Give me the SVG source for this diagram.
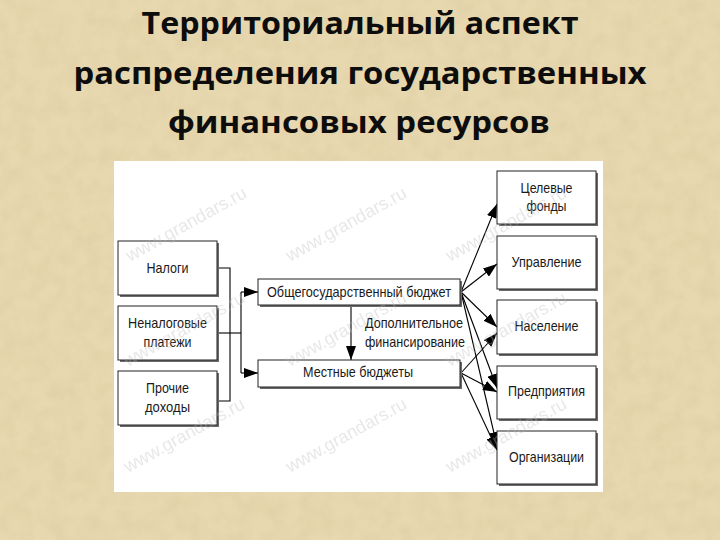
<svg xmlns="http://www.w3.org/2000/svg" width="720" height="540" viewBox="0 0 720 540">
<style>
.title{font-family:"Open Sans","Noto Sans","Liberation Sans",sans-serif;font-weight:700;font-size:31px;fill:#0d0d0d;text-anchor:middle}
.t{font-family:"Liberation Sans",Arial,sans-serif;font-size:14.5px;fill:#1a1a1a;text-anchor:middle}
.tl{font-family:"Liberation Sans",Arial,sans-serif;font-size:14.5px;fill:#1a1a1a;text-anchor:start}
.box{fill:#fff;stroke:#222;stroke-width:1}
.sh{fill:#6a6a6a}
.ln{fill:none;stroke:#000;stroke-width:1.1}
.wm{font-family:"Liberation Sans",Arial,sans-serif;font-size:18px;fill:#bdbdbd;opacity:.35}
</style>
<defs>
<marker id="ah" markerWidth="14" markerHeight="10" refX="14" refY="5" orient="auto" markerUnits="userSpaceOnUse">
<path d="M0,0 L14,5 L0,10 Z" fill="#000"/>
</marker>
<filter id="paper" x="0" y="0" width="100%" height="100%">
<feTurbulence type="fractalNoise" baseFrequency="0.06" numOctaves="3" seed="7" result="n"/>
<feColorMatrix in="n" type="matrix" values="0 0 0 0 0.55  0 0 0 0 0.45  0 0 0 0 0.25  0 0 0 0.9 -0.3"/>
</filter>
</defs>
<rect x="0" y="0" width="720" height="540" fill="#E8D8AF"/>
<rect x="0" y="0" width="720" height="540" filter="url(#paper)" opacity="0.35"/>
<g id="title">
<text class="title" x="360" y="34" textLength="437" lengthAdjust="spacingAndGlyphs">Территориальный аспект</text>
<text class="title" x="360" y="84" textLength="573" lengthAdjust="spacingAndGlyphs">распределения государственных</text>
<text class="title" x="359" y="133" textLength="382" lengthAdjust="spacingAndGlyphs">финансовых ресурсов</text>
</g>
<rect id="panel" x="114" y="161" width="489" height="331" fill="#fff"/>
<g id="connectors">
<path class="ln" d="M217,268 H230 V401 H217"/>
<path class="ln" d="M217,333 H241"/>
<path class="ln" d="M241,292 V373"/>
<path class="ln" d="M241,292 H258" marker-end="url(#ah)"/>
<path class="ln" d="M241,373 H258" marker-end="url(#ah)"/>
<path class="ln" d="M351,306 V360" marker-end="url(#ah)"/>
<path class="ln" d="M461,292 L497,204" marker-end="url(#ah)"/>
<path class="ln" d="M461,292 L497,264" marker-end="url(#ah)"/>
<path class="ln" d="M461,292 L497,327" marker-end="url(#ah)"/>
<path class="ln" d="M461,292 L497,388" marker-end="url(#ah)"/>
<path class="ln" d="M461,292 L497,446" marker-end="url(#ah)"/>
<path class="ln" d="M461,373 L497,333" marker-end="url(#ah)"/>
<path class="ln" d="M461,373 L497,392" marker-end="url(#ah)"/>
<path class="ln" d="M461,373 L497,450" marker-end="url(#ah)"/>
</g>
<g id="nalogi">
<rect class="sh" x="120" y="243" width="99" height="54"/>
<rect class="box" x="118" y="241" width="99" height="54"/>
<text class="t" x="167.5" y="273" textLength="42" lengthAdjust="spacingAndGlyphs">Налоги</text>
</g>
<g id="nenalog">
<rect class="sh" x="120" y="308" width="99" height="54"/>
<rect class="box" x="118" y="306" width="99" height="54"/>
<text class="t" x="167.5" y="328" textLength="79" lengthAdjust="spacingAndGlyphs">Неналоговые</text>
<text class="t" x="167.5" y="347" textLength="48" lengthAdjust="spacingAndGlyphs">платежи</text>
</g>
<g id="prochie">
<rect class="sh" x="120" y="373" width="99" height="54"/>
<rect class="box" x="118" y="371" width="99" height="54"/>
<text class="t" x="167.5" y="393" textLength="43" lengthAdjust="spacingAndGlyphs">Прочие</text>
<text class="t" x="167.5" y="412" textLength="45" lengthAdjust="spacingAndGlyphs">доходы</text>
</g>
<g id="obshegos">
<rect class="sh" x="260" y="281" width="202" height="26"/>
<rect class="box" x="258" y="279" width="202" height="26"/>
<text class="t" x="359" y="297" textLength="184" lengthAdjust="spacingAndGlyphs">Общегосударственный бюджет</text>
</g>
<g id="mestnye">
<rect class="sh" x="260" y="362" width="202" height="27"/>
<rect class="box" x="258" y="360" width="202" height="27"/>
<text class="t" x="358" y="377" textLength="110" lengthAdjust="spacingAndGlyphs">Местные бюджеты</text>
</g>
<g id="dopfin">
<text class="tl" x="365" y="328" textLength="98" lengthAdjust="spacingAndGlyphs">Дополнительное</text>
<text class="tl" x="365" y="347" textLength="100" lengthAdjust="spacingAndGlyphs">финансирование</text>
</g>
<g id="celevye">
<rect class="sh" x="499" y="173" width="99" height="53"/>
<rect class="box" x="497" y="171" width="99" height="53"/>
<text class="t" x="546.5" y="193" textLength="52" lengthAdjust="spacingAndGlyphs">Целевые</text>
<text class="t" x="546.5" y="211" textLength="40" lengthAdjust="spacingAndGlyphs">фонды</text>
</g>
<g id="upravlenie">
<rect class="sh" x="499" y="238" width="99" height="53"/>
<rect class="box" x="497" y="236" width="99" height="53"/>
<text class="t" x="546.5" y="267" textLength="70" lengthAdjust="spacingAndGlyphs">Управление</text>
</g>
<g id="naselenie">
<rect class="sh" x="499" y="302" width="99" height="54"/>
<rect class="box" x="497" y="300" width="99" height="54"/>
<text class="t" x="546.5" y="331" textLength="64" lengthAdjust="spacingAndGlyphs">Население</text>
</g>
<g id="predpriyatiya">
<rect class="sh" x="499" y="368" width="99" height="53"/>
<rect class="box" x="497" y="366" width="99" height="53"/>
<text class="t" x="546.5" y="396" textLength="77" lengthAdjust="spacingAndGlyphs">Предприятия</text>
</g>
<g id="organizacii">
<rect class="sh" x="499" y="433" width="99" height="53"/>
<rect class="box" x="497" y="431" width="99" height="53"/>
<text class="t" x="546.5" y="462" textLength="75" lengthAdjust="spacingAndGlyphs">Организации</text>
</g>
<g id="watermarks">
<text class="wm" transform="translate(130,262) rotate(-29)">www.grandars.ru</text>
<text class="wm" transform="translate(290,262) rotate(-29)">www.grandars.ru</text>
<text class="wm" transform="translate(450,262) rotate(-29)">www.grandars.ru</text>
<text class="wm" transform="translate(128,367) rotate(-29)">www.grandars.ru</text>
<text class="wm" transform="translate(290,367) rotate(-29)">www.grandars.ru</text>
<text class="wm" transform="translate(450,367) rotate(-29)">www.grandars.ru</text>
<text class="wm" transform="translate(128,473) rotate(-29)">www.grandars.ru</text>
<text class="wm" transform="translate(290,473) rotate(-29)">www.grandars.ru</text>
<text class="wm" transform="translate(450,473) rotate(-29)">www.grandars.ru</text>
</g>
</svg>
